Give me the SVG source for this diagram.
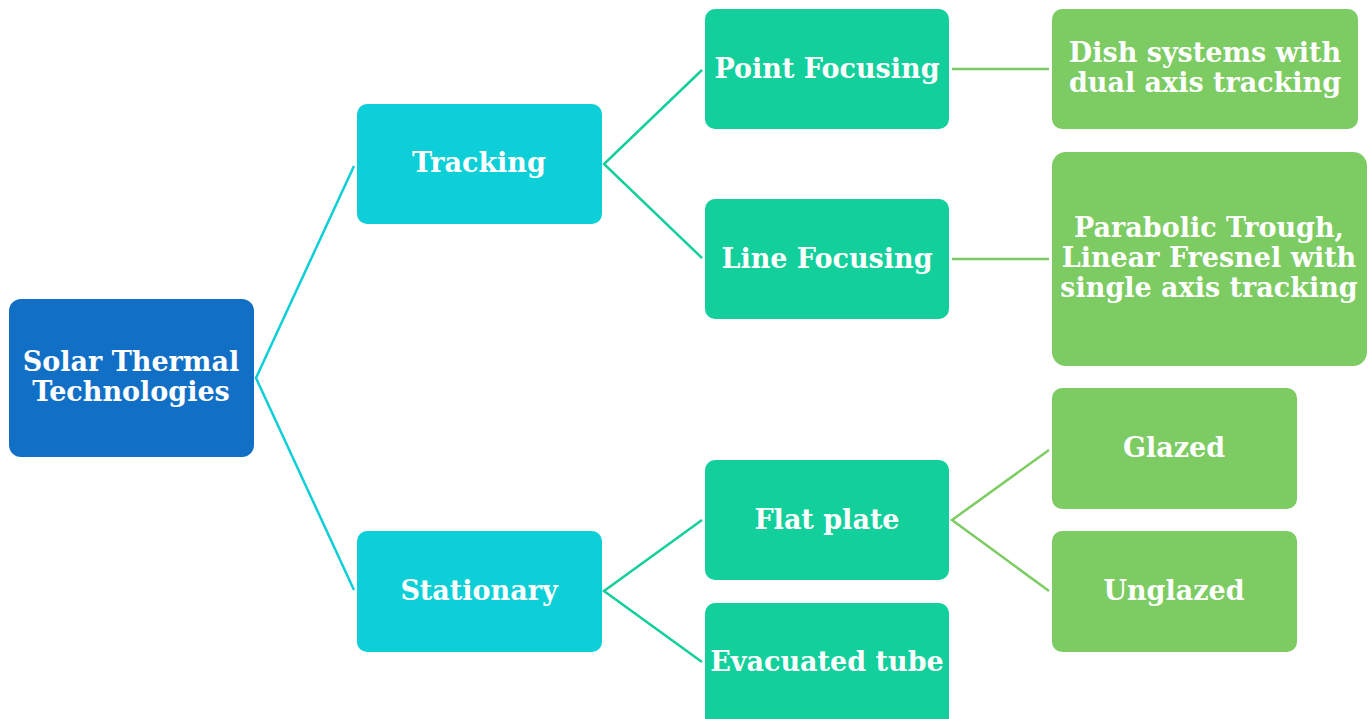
<svg xmlns="http://www.w3.org/2000/svg" width="1372" height="719" viewBox="0 0 1372 719">
<style>
.t{font-family:"DejaVu Serif","Liberation Serif",serif;font-weight:bold;font-size:27px;fill:#fff;text-anchor:middle}
.c1{stroke:#0DCFD8;stroke-width:2.5;fill:none}
.c2{stroke:#12CF9B;stroke-width:2.5;fill:none}
.c3{stroke:#7DCB63;stroke-width:2.5;fill:none}
</style>
<rect width="1372" height="719" fill="#fff"/>
<g id="connectors">
<polyline class="c1" points="354,166 256,378 354,590"/>
<polyline class="c2" points="702,70 604,164 702,258"/>
<polyline class="c2" points="702,520 604,591 702,662"/>
<line class="c3" x1="952" y1="69" x2="1049" y2="69"/>
<line class="c3" x1="952" y1="259" x2="1049" y2="259"/>
<polyline class="c3" points="1049,450 952,520 1049,591"/>
</g>
<g id="root"><rect x="9" y="299" width="245" height="158" rx="12" fill="#1170C6"/>
<text class="t" x="131" y="371">Solar Thermal</text><text class="t" x="131" y="401">Technologies</text></g>
<g id="tracking"><rect x="357" y="104" width="245" height="120" rx="10" fill="#0DCFD8"/>
<text class="t" x="479" y="172">Tracking</text></g>
<g id="stationary"><rect x="357" y="531" width="245" height="121" rx="10" fill="#0DCFD8"/>
<text class="t" x="479" y="600">Stationary</text></g>
<g id="point"><rect x="705" y="9" width="244" height="120" rx="10" fill="#12CF9B"/>
<text class="t" x="827" y="78">Point Focusing</text></g>
<g id="line"><rect x="705" y="199" width="244" height="120" rx="10" fill="#12CF9B"/>
<text class="t" x="827" y="268">Line Focusing</text></g>
<g id="flat"><rect x="705" y="460" width="244" height="120" rx="10" fill="#12CF9B"/>
<text class="t" x="827" y="529">Flat plate</text></g>
<g id="evac"><rect x="705" y="603" width="244" height="130" rx="10" fill="#12CF9B"/>
<text class="t" x="827" y="671">Evacuated tube</text></g>
<g id="dish"><rect x="1052" y="9" width="306" height="120" rx="10" fill="#7DCB63"/>
<text class="t" x="1205" y="62">Dish systems with</text><text class="t" x="1205" y="92">dual axis tracking</text></g>
<g id="parabolic"><rect x="1052" y="152" width="315" height="214" rx="14" fill="#7DCB63"/>
<text class="t" x="1209" y="237">Parabolic Trough,</text><text class="t" x="1209" y="267">Linear Fresnel with</text><text class="t" x="1209" y="297">single axis tracking</text></g>
<g id="glazed"><rect x="1052" y="388" width="245" height="121" rx="10" fill="#7DCB63"/>
<text class="t" x="1174" y="457">Glazed</text></g>
<g id="unglazed"><rect x="1052" y="531" width="245" height="121" rx="10" fill="#7DCB63"/>
<text class="t" x="1174" y="600">Unglazed</text></g>
</svg>
